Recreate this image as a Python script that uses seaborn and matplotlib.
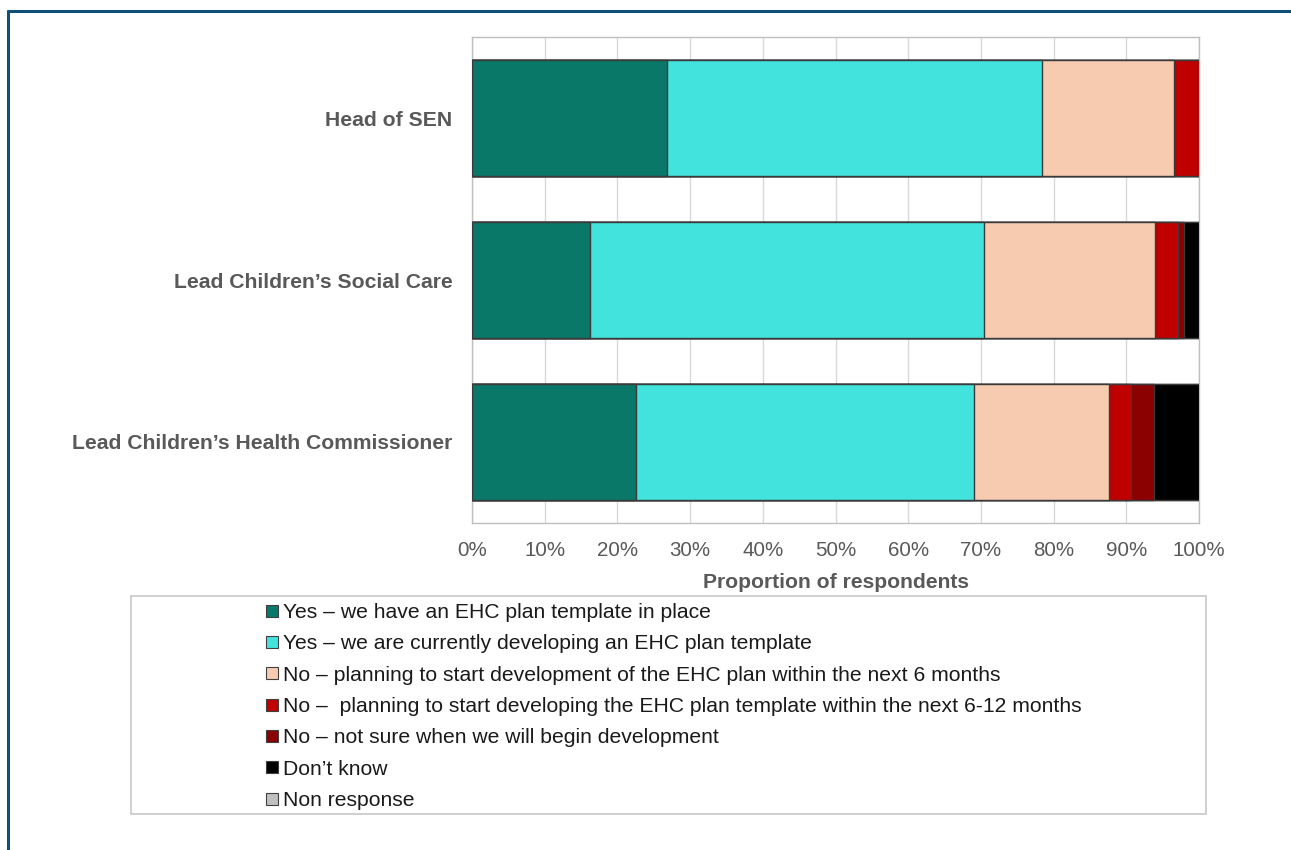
import matplotlib
matplotlib.use("Agg")
import matplotlib.pyplot as plt
import seaborn as sns
import pandas as pd
import numpy as np
from matplotlib.lines import Line2D
from matplotlib.patches import Rectangle

# ---- data ----
roles = ["Head of SEN", "Lead Children\u2019s Social Care", "Lead Children\u2019s Health Commissioner"]
responses = [
    "Yes \u2013 we have an EHC plan template in place",
    "Yes \u2013 we are currently developing an EHC plan template",
    "No \u2013 planning to start development of the EHC plan within the next 6 months",
    "No \u2013  planning to start developing the EHC plan template within the next 6-12 months",
    "No \u2013 not sure when we will begin development",
    "Don\u2019t know",
    "Non response",
]
have_template = [26.8, 16.2, 22.6]
developing = [51.6, 54.2, 46.4]
within_6 = [18.2, 23.5, 18.6]
within_6_12 = [3.4, 3.2, 3.1]
not_sure = [0.0, 0.8, 3.1]
dont_know = [0.0, 2.1, 6.2]
non_response = [0.0, 0.0, 0.0]

series = [have_template, developing, within_6, within_6_12, not_sure, dont_know, non_response]
colors = ["#0a7869", "#42e3dd", "#f6cbaf", "#c00000", "#8b0000", "#000000", "#c0c0c0"]

sns.set_theme(style="white")
plt.rcParams["font.family"] = ["Liberation Sans", "DejaVu Sans"]

W, H = 1291, 850
fig = plt.figure(figsize=(W / 100, H / 100), dpi=100)
ax = fig.add_axes([472 / W, 1 - 523 / H, (1199 - 472) / W, (523 - 37) / H])

# cumulative stacks
cum = np.cumsum(np.array(series, dtype=float), axis=0)
for i in range(len(series) - 1, -1, -1):
    df = pd.DataFrame({"role": roles, "value": cum[i] / 100.0})
    sns.barplot(data=df, x="value", y="role", orient="h", color=colors[i],
                width=0.715, edgecolor="#3a3a3a", linewidth=1.0, ax=ax,
                saturation=1, errorbar=None, zorder=3)

ax.set_xlim(0, 1)
ax.set_ylim(2.5, -0.5)
ticks = np.arange(0, 1.01, 0.1)
ax.set_xticks(ticks)
ax.set_xticklabels([f"{int(round(t * 100))}%" for t in ticks],
                   color="#595959", fontsize=14.8)
ax.tick_params(axis="x", length=0, pad=13)
ax.tick_params(axis="y", length=0, pad=14)
for lbl in ax.get_yticklabels():
    lbl.set_fontweight("bold")
    lbl.set_color("#595959")
    lbl.set_fontsize(15.2)
ax.set_ylabel("")
ax.set_xlabel("Proportion of respondents", fontsize=15.2, fontweight="bold",
              color="#595959", labelpad=9)
ax.grid(axis="x", color="#d9d9d9", linewidth=1, zorder=0)
ax.set_axisbelow(True)
for s in ["top", "right", "left", "bottom"]:
    ax.spines[s].set_color("#bfbfbf")
    ax.spines[s].set_linewidth(1)

# legend box
fig.patches.append(Rectangle((131 / W, 1 - 814 / H), (1206 - 131) / W, (814 - 596) / H,
                             transform=fig.transFigure, facecolor="white",
                             edgecolor="#c8c8c8", linewidth=1.2))
handles = [Line2D([0], [0], marker="s", linestyle="none", markersize=8.5,
                  markerfacecolor=c, markeredgecolor="#404040", markeredgewidth=0.8)
           for c in colors]
fig.legend(handles, responses, loc="upper left",
           bbox_to_anchor=(266 / W, 1 - 603 / H), frameon=False,
           fontsize=15.2, handlelength=0.6, handletextpad=0.2,
           labelspacing=0.585, borderaxespad=0, borderpad=0, labelcolor="#1a1a1a")

# outer border (top and left)
fig.add_artist(Line2D([8 / W, 8 / W], [0, 1 - 11 / H], transform=fig.transFigure,
                      color="#0e5078", linewidth=2.2))
fig.add_artist(Line2D([8 / W, 1], [1 - 11 / H, 1 - 11 / H], transform=fig.transFigure,
                      color="#0e5078", linewidth=2.2))

fig.savefig("out.png", dpi=100, facecolor="white")
